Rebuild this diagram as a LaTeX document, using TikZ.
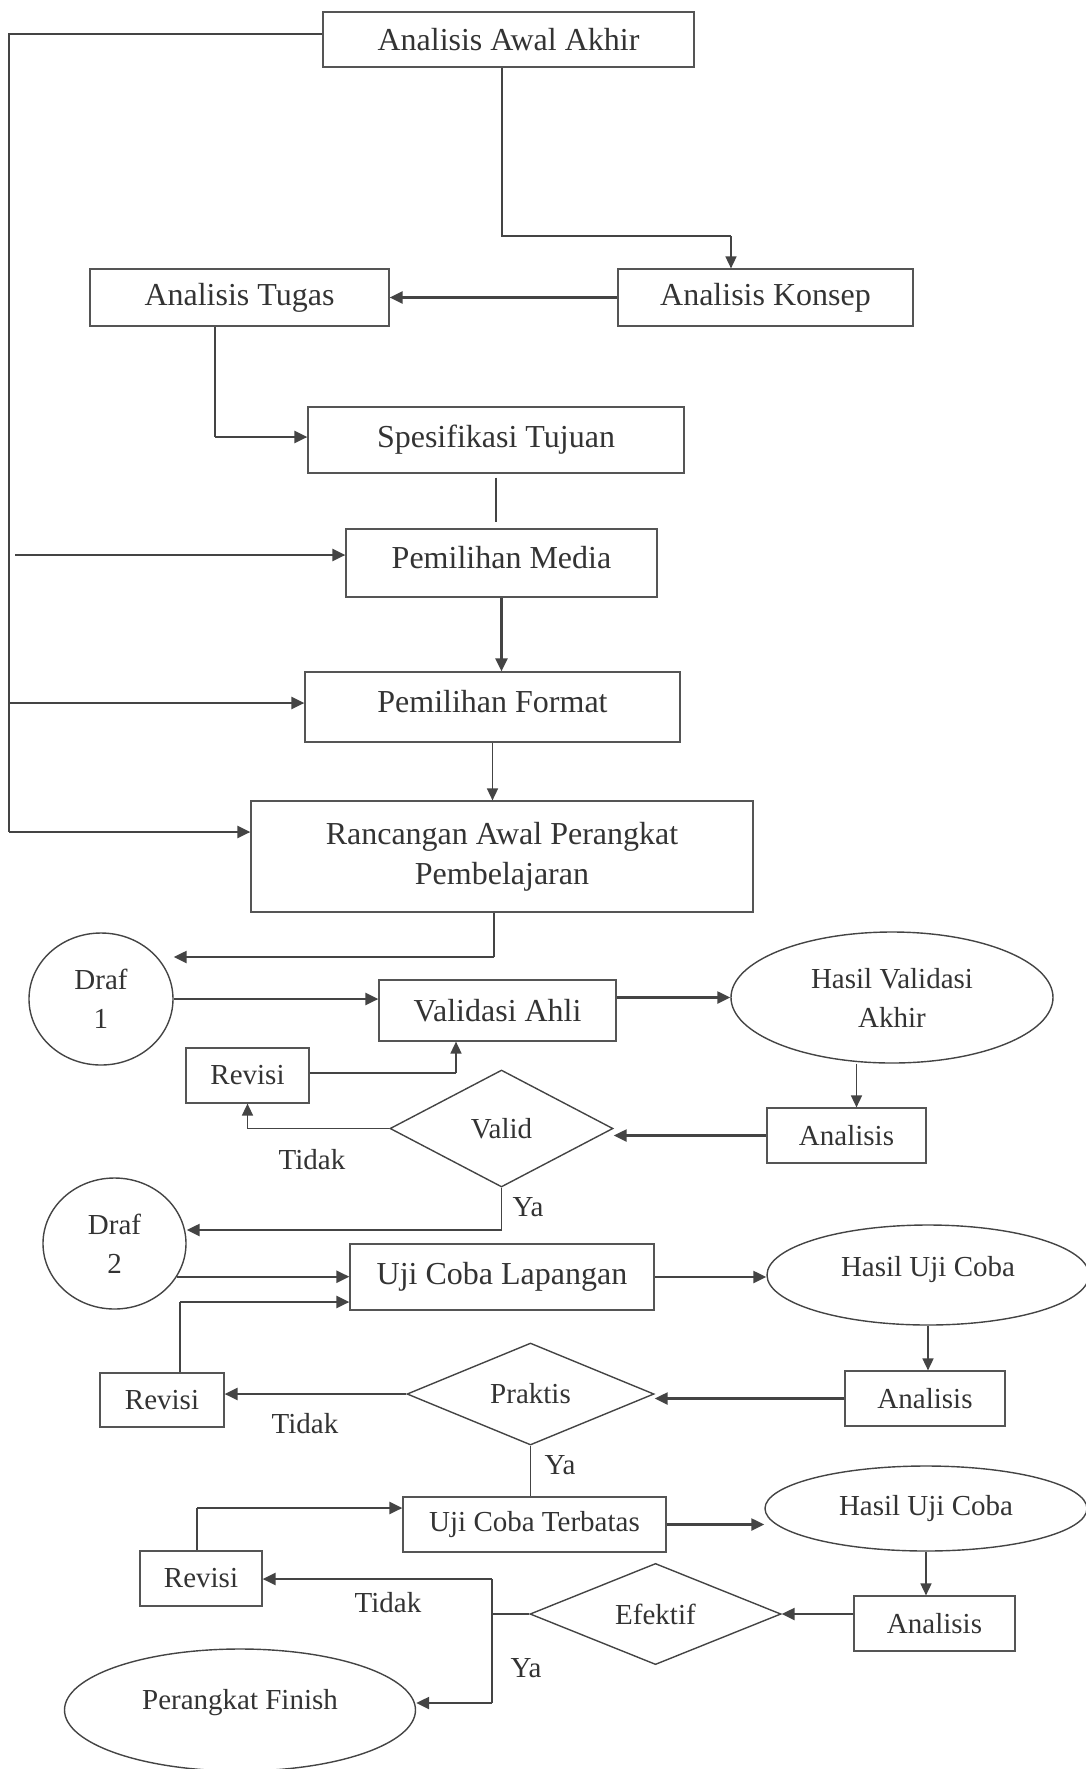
\documentclass[tikz,border=0pt]{standalone}
\usepackage{fontspec}
\setmainfont{Liberation Serif}
\usetikzlibrary{shapes.geometric,arrows.meta}

\definecolor{ink}{HTML}{333333}
\definecolor{edge}{HTML}{555555}
\definecolor{wire}{HTML}{444444}

\begin{document}
\begin{tikzpicture}[x=0.5pt,y=-0.5pt,
  box/.style={draw=edge,line width=0.6pt,text=ink,inner sep=0pt},
  big/.style={font=\fontsize{16}{20}\selectfont},
  small/.style={font=\fontsize{14.5}{19.5}\selectfont},
  oval/.style={ellipse,draw=wire,line width=0.7pt,text=ink,inner sep=0pt,small},
  choice/.style={diamond,draw=wire,line width=0.7pt,text=ink,inner sep=0pt,small},
  conn/.style={draw=wire,line width=0.6pt},
  arr/.style={draw=wire,line width=1.2pt,-{Triangle[length=6.5pt,width=6pt]}},
  tarr/.style={draw=wire,line width=0.8pt,-{Triangle[length=6pt,width=5.5pt]}},
  lbl/.style={text=ink,small,inner sep=0pt}]
\useasboundingbox (0,0) rectangle (1086,1769);

% define phase
\node[box,big,minimum width=185.5pt,minimum height=27.5pt] (aaa) at (508.5,39.5) {Analisis Awal Akhir};
\node[box,big,minimum width=149.5pt,minimum height=28.5pt] (tugas) at (239.5,297.5) {Analisis Tugas};
\node[box,big,minimum width=147.5pt,minimum height=28.5pt] (konsep) at (765.5,297.5) {Analisis Konsep};
\node[box,big,minimum width=188pt,minimum height=33pt] (spes) at (496,440) {Spesifikasi Tujuan};

% design phase
\node[box,big,text depth=6pt,minimum width=155.5pt,minimum height=34pt] (media) at (501.5,563) {Pemilihan Media};
\node[box,big,text depth=6pt,minimum width=187.5pt,minimum height=35pt] (format) at (492.5,707) {Pemilihan Format};
\node[box,big,align=center,minimum width=251pt,minimum height=55.5pt] (ranc) at (502,856.5) {Rancangan Awal Perangkat\\Pembelajaran};

% validation
\node[oval,align=center,minimum width=72pt,minimum height=66pt] (draf1) at (101,999) {Draf\\1};
\node[box,big,minimum width=118.5pt,minimum height=30.5pt] (valahli) at (497.5,1010.5) {Validasi Ahli};
\node[oval,align=center,minimum width=161pt,minimum height=65.5pt] (hva) at (892,997.5) {Hasil Validasi\\Akhir};
\node[box,small,minimum width=79.5pt,minimum height=27.5pt] (anl1) at (846.5,1135.5) {Analisis};
\node[choice,minimum width=111.5pt,minimum height=58.5pt] (valid) at (501.5,1128.5) {Valid};
\node[box,small,minimum width=61.5pt,minimum height=27.5pt] (rev1) at (247.5,1075.5) {Revisi};

% field trial
\node[oval,align=center,minimum width=71.5pt,minimum height=65.5pt] (draf2) at (114.5,1243.5) {Draf\\2};
\node[box,big,minimum width=152pt,minimum height=33pt] (ucl) at (502,1277) {Uji Coba Lapangan};
\node[oval,text depth=9pt,minimum width=161pt,minimum height=50pt] (huc1) at (928,1275) {Hasil Uji Coba};
\node[box,small,minimum width=80pt,minimum height=27.5pt] (anl2) at (925,1398.5) {Analisis};
\node[choice,minimum width=123.5pt,minimum height=51pt] (praktis) at (530.5,1394) {Praktis};
\node[box,small,minimum width=62pt,minimum height=27pt] (rev2) at (162,1400) {Revisi};

% limited trial
\node[box,small,minimum width=131.5pt,minimum height=27.5pt] (uct) at (534.5,1524.5) {Uji Coba Terbatas};
\node[oval,minimum width=161pt,minimum height=42.5pt] (huc2) at (926,1508.5) {Hasil Uji Coba};
\node[box,small,minimum width=80.5pt,minimum height=27.5pt] (anl3) at (934.5,1623.5) {Analisis};
\node[choice,minimum width=125.5pt,minimum height=50pt] (efektif) at (655.5,1614) {Efektif};
\node[box,small,minimum width=61pt,minimum height=27.5pt] (rev3) at (201,1578.5) {Revisi};
\node[oval,text depth=11pt,minimum width=175.5pt,minimum height=61pt] (finish) at (240,1710) {Perangkat Finish};

% labels
\node[lbl] (tidak1) at (312,1160) {Tidak};
\node[lbl] (ya1) at (528,1207) {Ya};
\node[lbl] (tidak2) at (305,1424) {Tidak};
\node[lbl] (ya2) at (560,1465) {Ya};
\node[lbl] (tidak3) at (388,1603) {Tidak};
\node[lbl] (ya3) at (526,1668) {Ya};

% spine on the left
\coordinate (sTop) at (9,34);
\coordinate (sMed) at (15,555);
\coordinate (sFmt) at (9,703);
\coordinate (sRan) at (9,832);
\draw[conn] (aaa.west |- sTop) -- (sTop) -- (sRan);
\draw[arr] (sMed) -- (sMed -| media.west);
\draw[arr] (sFmt) -- (sFmt -| format.west);
\draw[arr] (sRan) -- (sRan -| ranc.west);

% define connectors
\coordinate (k1) at (502,236);
\coordinate (k2) at (731,236);
\draw[conn] (aaa.south -| k1) -- (k1) -- (k2);
\draw[tarr] (k2) -- (k2 |- konsep.north);
\draw[arr] (konsep) -- (tugas);
\coordinate (t1) at (215,437);
\draw[conn] (tugas.south -| t1) -- (t1);
\draw[arr] (t1) -- (t1 -| spes.west);
\draw[conn,shorten <=2pt,shorten >=3pt] (spes.south) -- (spes.south |- media.north);
\draw[arr] (media.south) -- (media.south |- format.north);
\draw[tarr] (format.south) -- (format.south |- ranc.north);

% validation connectors
\coordinate (d1) at (494,957);
\draw[conn] (ranc.south -| d1) -- (d1);
\draw[arr] (d1) -- (d1 -| draf1.east);
\draw[arr] (draf1.east) -- (draf1.east -| valahli.west);
\draw[arr] (valahli.east |- hva.west) -- (hva.west);
\coordinate (h1) at ([xshift=5pt]anl1.north);
\draw[tarr] (h1 |- hva.south) -- (h1);
\draw[arr] (anl1.west) -- (anl1.west -| valid.east);
\coordinate (v1) at (456,1073);
\draw[conn] (rev1.east |- v1) -- (v1);
\draw[tarr] (v1) -- (v1 |- valahli.south);
\draw[tarr] (valid.west) -| (rev1.south);
\coordinate (y1) at (503,1230);
\draw[conn] (valid.south) -- (valid.south |- y1);
\draw[arr] (valid.south |- y1) -- (y1 -| draf2.east);

% field trial connectors
\draw[arr] (draf2.-28) -- (draf2.-28 -| ucl.west);
\draw[arr] (ucl.east) -- (ucl.east -| huc1.west);
\draw[tarr] (huc1.south) -- (huc1.south |- anl2.north);
\draw[arr] (anl2.west) -- (anl2.west -| praktis.east);
\draw[arr] (praktis.west) -- (praktis.west -| rev2.east);
\coordinate (r2) at (180,1302);
\draw[conn] (r2 |- rev2.north) -- (r2);
\draw[arr] (r2) -- (r2 -| ucl.west);
\draw[conn] (praktis.south) -- (praktis.south |- uct.north);

% limited trial connectors
\draw[arr] (uct.east) -- (uct.east -| huc2.west);
\draw[tarr] (huc2.south) -- (huc2.south |- anl3.north);
\draw[arr] (anl3.west |- efektif.east) -- (efektif.east);
\coordinate (e1) at (492,1579);
\coordinate (e2) at (492,1703);
\draw[conn] (efektif.west) -- (efektif.west -| e1);
\draw[conn] (e1) -- (e2);
\draw[arr] (e1) -- (e1 -| rev3.east);
\draw[arr] (e2) -- (e2 -| finish.east);
\coordinate (r3) at (197,1508);
\draw[conn] (r3 |- rev3.north) -- (r3);
\draw[arr] (r3) -- (r3 -| uct.west);
\end{tikzpicture}
\end{document}
